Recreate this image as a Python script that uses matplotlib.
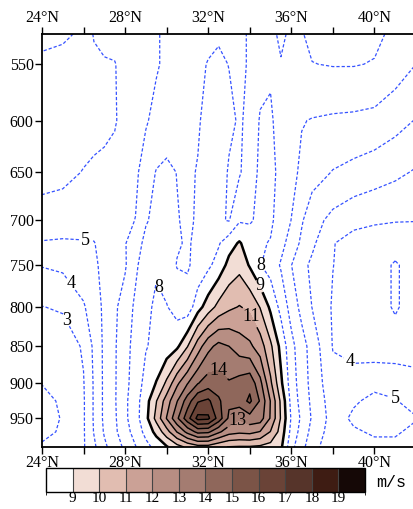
import numpy as np
import matplotlib
matplotlib.use('Agg')
import matplotlib.pyplot as plt
from matplotlib.colors import ListedColormap, BoundaryNorm
import matplotlib.colorbar as mcolorbar
from matplotlib.ticker import FixedLocator, NullLocator

# latitude (deg N) and pressure (hPa) of the grid
lats = [24, 25, 26, 26.5, 27, 27.5, 28, 28.5, 29, 29.5, 30, 30.5, 31, 31.5, 32,
        32.5, 33, 33.5, 34, 34.5, 35, 35.5, 36, 36.5, 37, 38, 39, 40, 41, 42]
pres = [525, 550, 600, 650, 700, 725, 750, 800, 850, 900, 925, 950, 970, 993]

# wind speed (m/s), one list per pressure level
w525 = [7.4, 7.2, 6.8, 5.9, 5.7, 5.6, 5.5, 5.5, 5.6, 5.9, 6.2, 6.4, 6.5, 6.6, 6.75,
        6.9, 6.85, 6.8, 7.1, 7.5, 7.8, 8.15, 7.85, 7.95, 8.2, 8.35, 8.35, 8.2, 7.8, 7.5]
w550 = [6.7, 6.6, 6.5, 6.3, 6.1, 6.05, 5.6, 5.4, 5.6, 5.9, 6.2, 6.45, 6.6, 6.8, 7.05,
        7.15, 6.98, 6.8, 7.1, 7.6, 7.9, 7.95, 7.6, 7.7, 7.98, 8.05, 8.05, 7.95, 7.5, 7.0]
w600 = [6.6, 6.6, 6.5, 6.4, 6.3, 6.1, 5.6, 5.3, 5.9, 6.3, 6.5, 6.6, 6.7, 6.9, 7.3,
        7.4, 7.2, 6.9, 7.2, 8.1, 8.1, 7.7, 7.3, 7.05, 6.95, 6.85, 6.8, 6.7, 6.35, 5.95]
w650 = [6.5, 6.3, 5.95, 5.8, 5.7, 5.6, 5.5, 5.8, 6.5, 7.05, 7.2, 6.98, 6.85, 7.05, 7.4,
        7.5, 6.9, 6.9, 7.5, 8.2, 8.1, 7.9, 7.3, 6.8, 6.4, 5.95, 5.7, 5.45, 5.2, 4.9]
w700 = [5.4, 5.4, 5.6, 5.5, 5.6, 5.7, 5.8, 6.02, 6.9, 7.3, 7.4, 7.05, 6.85, 7.1, 7.3,
        7.1, 6.95, 7.9, 7.9, 8.2, 8.15, 7.6, 6.98, 6.1, 5.4, 4.7, 4.3, 4.15, 4.05, 4.02]
w725 = [4.95, 4.9, 4.9, 4.95, 5.4, 5.8, 5.95, 6.5, 7.3, 7.6, 7.5, 7.1, 6.9, 7.2, 7.6,
        7.9, 8.6, 9.1, 8.5, 8.1, 7.95, 7.3, 6.6, 5.8, 5.2, 4.05, 3.6, 3.4, 3.4, 3.6]
w750 = [4.05, 4.2, 4.6, 4.8, 5.3, 5.8, 5.9, 6.8, 7.6, 7.9, 7.5, 6.95, 6.9, 7.3, 7.8,
        8.4, 9.3, 9.7, 8.9, 8.05, 7.6, 6.9, 6.02, 5.3, 4.8, 4.02, 3.5, 3.4, 2.9, 3.4]
w800 = [2.98, 3.1, 3.9, 4.5, 5.2, 5.85, 6.4, 7.2, 7.8, 8.15, 8.05, 7.6, 7.4, 8.6, 9.5,
        10.3, 10.8, 11.05, 10.8, 9.95, 8.8, 7.7, 6.6, 5.7, 4.98, 3.9, 3.5, 3.4, 2.9, 3.4]
w850 = [2.4, 2.5, 3.1, 4.2, 5.2, 5.9, 6.6, 7.4, 7.95, 8.2, 8.4, 8.8, 9.95, 11.5, 12.7,
        13.3, 13.0, 12.5, 12.2, 11.5, 10.2, 8.7, 7.3, 6.4, 5.6, 3.95, 3.5, 3.4, 3.4, 3.6]
w900 = [2.02, 2.2, 2.95, 4.1, 5.2, 5.9, 6.7, 7.5, 8.3, 9.05, 10.2, 11.8, 12.95, 13.95, 14.5,
        14.4, 14.1, 14.4, 14.7, 13.3, 11.2, 9.2, 7.5, 6.5, 5.7, 4.3, 4.6, 4.8, 4.7, 4.3]
w925 = [1.8, 2.1, 2.9, 4.1, 5.2, 5.9, 6.8, 7.6, 8.6, 9.95, 11.5, 12.95, 14.5, 15.9, 16.2,
        15.2, 14.2, 14.5, 15.2, 13.9, 11.95, 9.8, 7.7, 6.6, 5.8, 4.5, 4.9, 5.2, 5.05, 4.7]
w950 = [1.7, 2.05, 2.9, 4.1, 5.2, 5.85, 6.8, 7.6, 8.7, 10.3, 12.05, 13.8, 15.6, 17.3, 17.2,
        15.6, 13.8, 13.1, 13.6, 13.5, 11.9, 9.9, 7.9, 6.8, 5.9, 4.6, 5.15, 5.4, 5.3, 5.05]
w970 = [1.8, 2.1, 2.9, 4.05, 5.1, 5.8, 6.6, 7.4, 8.3, 9.3, 10.6, 12.05, 13.3, 14.3, 14.2,
        13.2, 12.4, 12.2, 12.3, 11.95, 10.95, 9.6, 7.7, 6.6, 5.7, 4.5, 4.9, 5.1, 5.1, 4.8]
w993 = [2.1, 2.3, 2.9, 3.8, 4.8, 5.5, 6.2, 6.95, 7.7, 8.3, 8.9, 9.6, 10.2, 10.6, 10.6,
        10.2, 9.95, 9.9, 9.9, 9.8, 9.6, 9.2, 7.3, 6.3, 5.4, 4.3, 4.6, 4.8, 4.8, 4.6]

speed = np.array([w525, w550, w600, w650, w700, w725, w750, w800,
                  w850, w900, w925, w950, w970, w993])

shade_levels = [9, 10, 11, 12, 13, 14, 15, 16, 17, 18, 19]
shade_colors = ['#f2ddd5', '#e1bdb1', '#cba196', '#b78e83', '#a47c71', '#8f675b',
                '#7b5447', '#6a4337', '#56342a', '#3e1c13', '#150806']
blue_levels = [1, 2, 3, 4, 5, 6, 7, 8]
black_levels = shade_levels

xticks = [24, 28, 32, 36, 40]
xlabels = ['24°N', '28°N', '32°N', '36°N', '40°N']
yticks = [550, 600, 650, 700, 750, 800, 850, 900, 950]
ylabels = ['550', '600', '650', '700', '750', '800', '850', '900', '950']

# (value, lat, pressure) where the contour labels sit
labels_at = [(5, 26.1, 722), (4, 25.7, 766), (3, 25.7, 809), (8, 29.7, 775),
             (8, 34.5, 750), (4, 38.6, 880), (5, 41.0, 920),
             (9, 34.3, 777), (11, 33.8, 815), (14, 32.5, 880), (13, 33.5, 957)]

plt.rcParams['lines.dashed_pattern'] = (2.6, 1.6)
serif = 'Liberation Serif'

fig = plt.figure(figsize=(4.14, 5.09), dpi=100)
ax = fig.add_axes([0.1014, 0.1218, 0.9034, 0.8114])
ax.set_yscale('log')
ax.set_ylim(993, 525)
ax.set_xlim(24, 42)

ax.contourf(lats, pres, speed, levels=shade_levels + [25], colors=shade_colors)

# one contour set per level so each label can be put on its own line
lines = {}
for v in blue_levels:
    lines[v] = ax.contour(lats, pres, speed, levels=[v], colors='#3552ff',
                          linewidths=0.9, linestyles='dashed')
for v in black_levels:
    lines[v] = ax.contour(lats, pres, speed, levels=[v], colors='black',
                          linewidths=1.8 if v == 9 else 1.0, linestyles='solid')

for v, x, y in labels_at:
    for t in lines[v].clabel(manual=[(x, y)], inline=True, inline_spacing=1,
                             fontsize=13, fmt='%d', colors='black'):
        t.set_fontfamily(serif)
        t.set_rotation(0)

ax.yaxis.set_major_locator(FixedLocator(yticks))
ax.yaxis.set_minor_locator(NullLocator())
ax.set_yticklabels(ylabels, fontfamily=serif, fontsize=11.5)
ax.set_xticks(xticks)
ax.set_xticklabels(xlabels, fontfamily=serif, fontsize=11.5)
ax.set_xticks([26, 30, 34, 38, 42], minor=True)
ax.tick_params(axis='x', which='both', top=True, labeltop=True, bottom=True,
               labelbottom=True, direction='out', length=5, width=1, pad=1)
ax.tick_params(axis='y', which='both', left=True, right=False, direction='out',
               length=5, width=1, pad=1)
for s in ax.spines.values():
    s.set_linewidth(1.3)

cax = fig.add_axes([0.1111, 0.034, 0.7705, 0.0472])
cmap = ListedColormap(['white'] + shade_colors)
norm = BoundaryNorm([8] + shade_levels + [20], cmap.N)
cbar = mcolorbar.ColorbarBase(cax, cmap=cmap, norm=norm, orientation='horizontal',
                              ticks=shade_levels, drawedges=True)
cbar.outline.set_linewidth(1.0)
cbar.dividers.set_color('#444444')
cbar.dividers.set_linewidth(0.8)
cax.tick_params(length=0, pad=0)
cax.set_xticklabels([str(v) for v in shade_levels], fontfamily=serif, fontsize=11)
fig.text(0.908, 0.052, 'm/s', fontfamily='Liberation Mono', fontsize=12, va='center')

fig.savefig('out.png', dpi=100)
